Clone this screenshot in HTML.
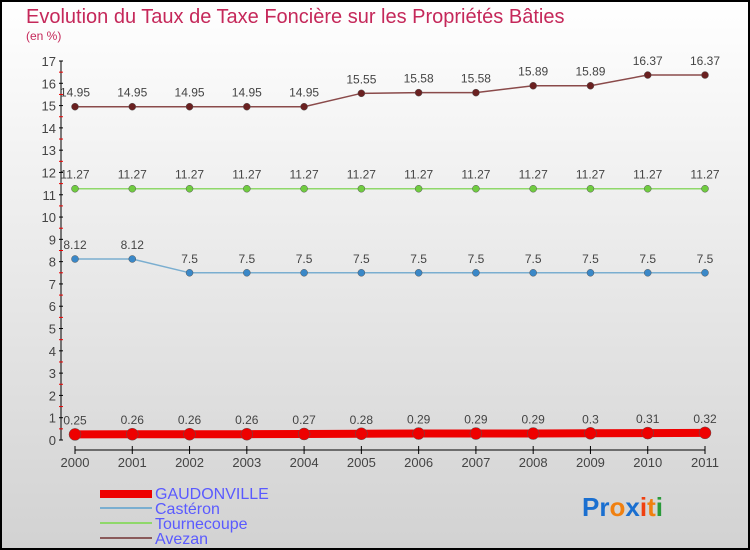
<!DOCTYPE html>
<html><head><meta charset="utf-8"><style>
body{margin:0}
#wrap{position:relative;width:750px;height:550px;overflow:hidden;background:linear-gradient(#ffffff,#d2d2d2);font-family:"Liberation Sans",sans-serif}
</style></head><body>
<div id="wrap">
<svg id="chart" width="750" height="550" xmlns="http://www.w3.org/2000/svg">
<rect x="1" y="1" width="748" height="548" fill="none" stroke="#000" stroke-width="2"/>
<text x="26" y="23" font-size="20" fill="#c5285a">Evolution du Taux de Taxe Foncière sur les Propriétés Bâties</text>
<text x="26" y="40" font-size="12" fill="#c5285a">(en %)</text>
<g id="axes"></g><g id="series"></g>
<g>
<rect x="100" y="490" width="52" height="8" fill="#e00"/>
<text x="155" y="499" font-size="16" fill="#5a5aff">GAUDONVILLE</text>
<line x1="100" y1="508" x2="152" y2="508" stroke="#7aaed0" stroke-width="2"/>
<text x="155" y="514" font-size="16" fill="#5a5aff">Castéron</text>
<line x1="100" y1="523" x2="152" y2="523" stroke="#8fd86a" stroke-width="2"/>
<text x="155" y="529" font-size="16" fill="#5a5aff">Tournecoupe</text>
<line x1="100" y1="538" x2="152" y2="538" stroke="#8a5a5a" stroke-width="2"/>
<text x="155" y="544" font-size="16" fill="#5a5aff">Avezan</text>
</g>
<g font-size="26" font-weight="bold">
<text x="582" y="516"><tspan fill="#1a6fd0">Pr</tspan><tspan fill="#f08010">o</tspan><tspan fill="#1a6fd0">x</tspan><tspan fill="#f04010">i</tspan><tspan fill="#f08010">t</tspan><tspan fill="#2a9a3a">i</tspan></text>
</g>
</svg>
</div>
<script>
const years=[2000,2001,2002,2003,2004,2005,2006,2007,2008,2009,2010,2011];
const gaudonville=[0.25,0.26,0.26,0.26,0.27,0.28,0.29,0.29,0.29,0.3,0.31,0.32];
const casteron=[8.12,8.12,7.5,7.5,7.5,7.5,7.5,7.5,7.5,7.5,7.5,7.5];
const tournecoupe=[11.27,11.27,11.27,11.27,11.27,11.27,11.27,11.27,11.27,11.27,11.27,11.27];
const avezan=[14.95,14.95,14.95,14.95,14.95,15.55,15.58,15.58,15.89,15.89,16.37,16.37];
const yTicks=[0,1,2,3,4,5,6,7,8,9,10,11,12,13,14,15,16,17];
const NS="http://www.w3.org/2000/svg";
const x=i=>75+i*(630/(years.length-1));
const y=v=>440-v*(379/17);
function mk(t,a,p){const e=document.createElementNS(NS,t);for(const k in a)e.setAttribute(k,a[k]);p.appendChild(e);return e;}
const ax=document.getElementById('axes');
const yl=mk('line',{x1:61,y1:y(17),x2:61,y2:440,stroke:'#000'},ax);


yTicks.forEach(v=>{
 mk('line',{x1:59,y1:y(v),x2:63,y2:y(v),stroke:'#000'},ax);
 if(v<17)mk('line',{x1:59,y1:y(v+0.5),x2:63,y2:y(v+0.5),stroke:'#e00'},ax);
 const t=mk('text',{x:56,y:y(v)+5,'text-anchor':'end','font-size':13,fill:'#444'},ax);t.textContent=v;
 
 
});
const xl=mk('line',{x1:x(0),y1:450,x2:x(years.length-1),y2:450,stroke:'#000'},ax);


years.forEach((yr,i)=>{
 mk('line',{x1:x(i),y1:446,x2:x(i),y2:454,stroke:'#000'},ax);
 const t=mk('text',{x:x(i),y:467,'text-anchor':'middle','font-size':13,fill:'#444'},ax);t.textContent=yr;
 
 
});
const sg=document.getElementById('series');
function series(name,vals,color,dot,w,r){
 const g=mk('g',{},sg);
 
 
 const p=mk('polyline',{points:vals.map((v,i)=>x(i)+','+y(v)).join(' '),fill:'none',stroke:color,'stroke-width':w},g);
 
 
 vals.forEach((v,i)=>{
  const c=mk('circle',{cx:x(i),cy:y(v),r:r,fill:dot,stroke:'#555','stroke-width':0.5},g);
  
  
  const t=mk('text',{x:x(i),y:y(v)-10,'text-anchor':'middle','font-size':12,fill:'#444'},g);t.textContent=v;
  
  
 });
}
series('avezan',avezan,'#8a4a4a','#6a2020',1.5,3.5);
series('tournecoupe',tournecoupe,'#8fd86a','#70cc40',1.5,3.5);
series('casteron',casteron,'#7aaed0','#3a88c8',1.5,3.5);
series('gaudonville',gaudonville,'#e00','#e00',8,6);
</script>
</body></html>
